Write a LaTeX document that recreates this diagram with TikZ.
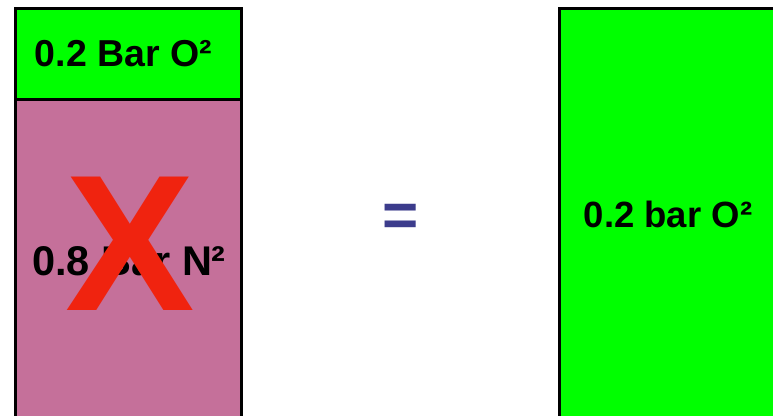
\documentclass[tikz,border=0pt]{standalone}
\usepackage{fontspec}
\setmainfont{Liberation Sans}
\definecolor{gasgreen}{HTML}{00FF00}
\definecolor{nitropink}{HTML}{C5709A}
\definecolor{crossred}{HTML}{F0230F}
\definecolor{eqblue}{HTML}{3C3C8C}
\tikzset{
  tank/.style={draw=black, line width=3pt},
  gaslabel/.style={anchor=base, inner sep=0pt, font=\bfseries},
}
\begin{document}
\begin{tikzpicture}[x=1pt, y=-1pt]
  \useasboundingbox (0,0) rectangle (773,415);
  \clip (0,0) rectangle (773,415);
  % left tank: oxygen on top, nitrogen below
  \fill[nitropink] (15.5,99) rectangle (241.5,430);
  \fill[gasgreen] (15.5,8.5) rectangle (241.5,99);
  \draw[tank] (15.5,430) -- (15.5,8.5) -- (241.5,8.5) -- (241.5,430);
  \draw[tank] (15.5,99) -- (241.5,99);
  \node[gaslabel, font=\bfseries\fontsize{37.5}{37.5}\selectfont] (oxy) at (123.5,66) {0.2 Bar O²};
  \node[gaslabel, font=\bfseries\fontsize{41.5}{41.5}\selectfont] (nitro) at (129,275) {0.8 Bar N²};
  \node[gaslabel, text=crossred, font=\bfseries\fontsize{194}{194}\selectfont] (cross) at (130,310) {X};
  % equals sign
  \node[gaslabel, text=eqblue, font=\bfseries\fontsize{62}{62}\selectfont] (eq) at (400.5,236) {=};
  % right tank: oxygen only
  \fill[gasgreen] (559.5,8.5) rectangle (790,430);
  \draw[tank] (559.5,430) -- (559.5,8.5) -- (790,8.5);
  \node[gaslabel, font=\bfseries\fontsize{36.5}{36.5}\selectfont] (oxyonly) at (668,227) {0.2 bar O²};
\end{tikzpicture}
\end{document}
